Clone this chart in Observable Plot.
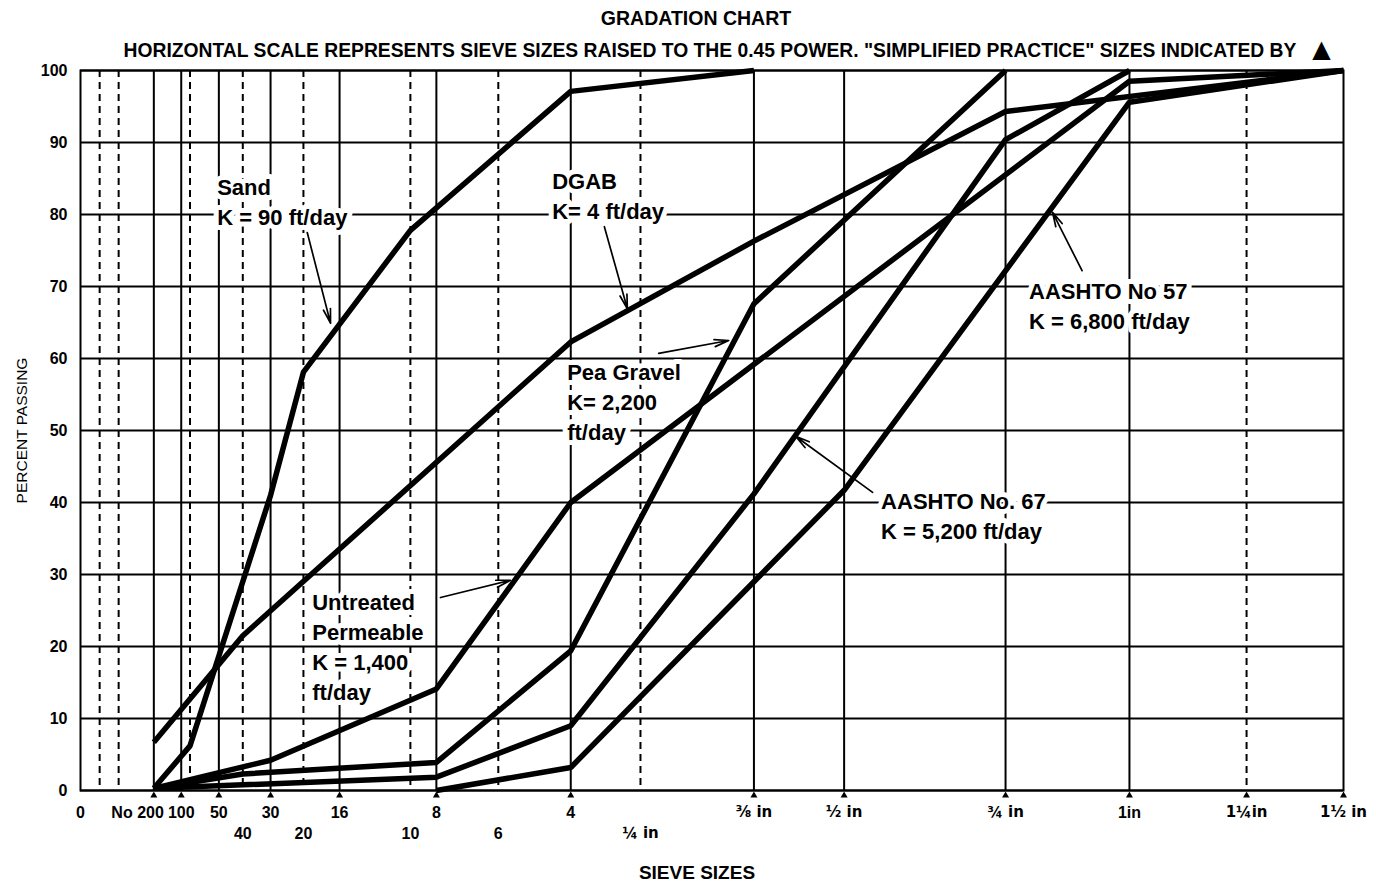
<!DOCTYPE html>
<html>
<head>
<meta charset="utf-8">
<script src="https://cdn.jsdelivr.net/npm/d3@7"></script>
<script src="https://cdn.jsdelivr.net/npm/@observablehq/plot@0.6"></script>
<style>
  html, body { margin: 0; padding: 0; background: #fff; }
  #chart svg { display: block; }
</style>
</head>
<body>
<div id="chart"></div>
<script>
// ---------- data (sieve sizes in mm, percent passing) ----------
const sandSize = [0.075, 0.18, 0.6, 0.85, 2.0, 4.75, 9.5];
const sandPass = [0.3, 6.2, 41, 58.1, 77.8, 97.1, 100];

const dgabSize = [0.075, 0.425, 4.75, 9.5, 19, 37.5];
const dgabPass = [6.7, 21.5, 62.3, 76.3, 94.3, 100];

const peaSize = [0.075, 0.425, 2.36, 4.75, 9.5, 19];
const peaPass = [0.3, 2.3, 3.9, 19.4, 67.6, 100];

const untreatedSize = [0.075, 0.6, 2.36, 4.75, 25, 37.5];
const untreatedPass = [0.3, 4.2, 14.1, 40, 98.5, 100];

const no67Size = [0.075, 2.36, 4.75, 9.5, 19, 25];
const no67Pass = [0.3, 1.85, 9.0, 41.2, 90.4, 100];

const no57Size = [2.36, 4.75, 12.5, 25, 37.5];
const no57Pass = [0, 3.2, 41.7, 95.6, 100];

// grid / axis
const percentTicks = [0, 10, 20, 30, 40, 50, 60, 70, 80, 90, 100];
const solidSieves = [0.075, 0.15, 0.3, 0.6, 1.18, 2.36, 4.75, 9.5, 12.5, 19, 25];
const dashedSieves = [0.004, 0.018, 0.18, 0.425, 0.85, 2.0, 3.35, 6.35, 31.5];
const practiceSieves = [0.075, 0.15, 0.3, 0.6, 1.18, 2.36, 4.75, 9.5, 12.5, 19, 25, 31.5, 37.5];

const tickSizes  = [0, 0.075, 0.15, 0.3, 0.425, 0.6, 0.85, 1.18, 2.0, 2.36, 3.35, 4.75, 6.35, 9.5, 12.5, 19, 25, 31.5, 37.5];
const tickLabels = ["0", "No 200", "100", "50", "40", "30", "20", "16", "10", "8", "6", "4", "¼ in", "⅜ in", "½ in", "¾ in", "1in", "1¼in", "1½ in"];
const tickRow    = [1, 1, 1, 1, 2, 1, 2, 1, 2, 1, 2, 1, 2, 1, 1, 1, 1, 1, 1];

// annotations
const labelText = [
  "Sand\nK = 90 ft/day",
  "DGAB\nK= 4 ft/day",
  "Pea Gravel\nK= 2,200\nft/day",
  "Untreated\nPermeable\nK = 1,400\nft/day",
  "AASHTO No 57\nK = 6,800 ft/day",
  "AASHTO No. 67\nK = 5,200 ft/day"
];
const labelSize = [0.292, 4.366, 4.675, 0.925, 20.07, 13.86];
const labelPass = [81.9, 82.8, 54.2, 20.2, 67.5, 38.3];

const arrowFromSize = [0.882, 5.49, 6.81, 2.42, 22.6, 13.54];
const arrowFromPass = [77.5, 78.3, 60.7, 26.8, 72.2, 41.4];
const arrowToSize   = [1.092, 6.03, 8.74, 3.567, 21.17, 10.83];
const arrowToPass   = [64.9, 66.9, 62.5, 29.2, 80.3, 49.2];

// ---------- build tables ----------
const series = [
  {name: "Sand", size: sandSize, pass: sandPass},
  {name: "DGAB", size: dgabSize, pass: dgabPass},
  {name: "Pea Gravel", size: peaSize, pass: peaPass},
  {name: "Untreated Permeable", size: untreatedSize, pass: untreatedPass},
  {name: "AASHTO No. 67", size: no67Size, pass: no67Pass},
  {name: "AASHTO No 57", size: no57Size, pass: no57Pass}
];
const curveRows = series.flatMap(s => s.size.map((d, i) => ({curve: s.name, size: d, pass: s.pass[i]})));
const labelRows = labelText.map((t, i) => ({text: t, x: labelSize[i], y: labelPass[i]}));
const arrowRows = arrowFromSize.map((d, i) => ({x1: d, y1: arrowFromPass[i], x2: arrowToSize[i], y2: arrowToPass[i]}));
const tickRows = tickSizes.map((d, i) => ({size: d, label: tickLabels[i], row: tickRow[i]}));
const isFrac = s => /[¼½¾⅜]/.test(s);

const FONT = "'Liberation Sans', Arial, Helvetica, sans-serif";
const FRACFONT = "'DejaVu Sans', 'Liberation Sans', sans-serif";
const labelOpts = {x: "x", y: "y", text: "text", textAnchor: "start", lineAnchor: "middle",
  lineHeight: 1.36, fontSize: 22, fontWeight: "bold"};
const tickOpts = {x: "size", y: () => 0, text: "label", fontSize: 16, fontWeight: "bold", lineAnchor: "middle"};

const chart = Plot.plot({
  width: 1376,
  height: 884,
  marginLeft: 80,
  marginRight: 33,
  marginTop: 70,
  marginBottom: 94,
  style: {fontFamily: FONT, background: "white", color: "black", overflow: "visible"},
  x: {type: "pow", exponent: 0.458, domain: [0, 37.5], axis: null},
  y: {domain: [0, 100], axis: null},
  marks: [
    Plot.ruleY(percentTicks, {stroke: "black", strokeWidth: 2}),
    Plot.ruleX(solidSieves, {stroke: "black", strokeWidth: 2}),
    Plot.ruleX(dashedSieves, {stroke: "black", strokeWidth: 2, strokeDasharray: "7,5"}),
    Plot.frame({stroke: "black", strokeWidth: 2}),
    // white boxes behind the labels
    Plot.text(labelRows, {...labelOpts, fill: "white", stroke: "white", strokeWidth: 10, strokeLinejoin: "round"}),
    // gradation curves
    Plot.line(curveRows, {x: "size", y: "pass", z: "curve", stroke: "black", strokeWidth: 5.5,
      strokeLinejoin: "miter", strokeLinecap: "butt"}),
    Plot.text(labelRows, {...labelOpts, fill: "black"}),
    Plot.arrow(arrowRows, {x1: "x1", y1: "y1", x2: "x2", y2: "y2", stroke: "black",
      strokeWidth: 1.7, headLength: 13, headAngle: 28}),
    // y tick labels
    Plot.text(percentTicks, {x: () => 0, y: d => d, text: d => String(d), textAnchor: "end",
      dx: -13, fontSize: 16, fontWeight: "bold"}),
    // x tick labels
    Plot.text(tickRows.filter(r => r.row === 1 && !r.label.startsWith("No") && !isFrac(r.label)),
      {...tickOpts, dy: 22}),
    Plot.text(tickRows.filter(r => r.row === 1 && isFrac(r.label)),
      {...tickOpts, dy: 22, fontFamily: FRACFONT, fontSize: 15}),
    Plot.text(tickRows.filter(r => r.label.startsWith("No")),
      {...tickOpts, dy: 22, dx: 10, textAnchor: "end"}),
    Plot.text(tickRows.filter(r => r.row === 2 && !isFrac(r.label)),
      {...tickOpts, dy: 43}),
    Plot.text(tickRows.filter(r => r.row === 2 && isFrac(r.label)),
      {...tickOpts, dy: 43, fontFamily: FRACFONT, fontSize: 15}),
    // simplified practice markers
    Plot.dot(practiceSieves, {x: d => d, y: () => 0, dy: 5, symbol: "triangle", r: 2.6, fill: "black", stroke: "none"}),
    // titles
    Plot.text(["GRADATION CHART"], {frameAnchor: "top", text: d => d, dy: -52, dx: -16,
      lineAnchor: "middle", textAnchor: "middle", fontSize: 19.5, fontWeight: "bold"}),
    Plot.text(["HORIZONTAL SCALE REPRESENTS SIEVE SIZES RAISED TO THE 0.45 POWER. \"SIMPLIFIED PRACTICE\" SIZES INDICATED BY"],
      {frameAnchor: "top", text: d => d, dy: -20, dx: -2, lineAnchor: "middle", textAnchor: "middle",
       fontSize: 19.3, fontWeight: "bold"}),
    Plot.text(["▲"], {frameAnchor: "top-right", text: d => d, dy: -21, dx: -22, lineAnchor: "middle",
      textAnchor: "middle", fontSize: 24, fontFamily: FRACFONT}),
    Plot.text(["PERCENT PASSING"], {frameAnchor: "left", text: d => d, rotate: -90, dx: -58,
      textAnchor: "middle", lineAnchor: "middle", fontSize: 15.5}),
    Plot.text(["SIEVE SIZES"], {frameAnchor: "bottom", text: d => d, dy: 82, dx: -15,
      textAnchor: "middle", lineAnchor: "middle", fontSize: 19, fontWeight: "bold"}),
  ]
});
document.getElementById("chart").appendChild(chart);
</script>
</body>
</html>
